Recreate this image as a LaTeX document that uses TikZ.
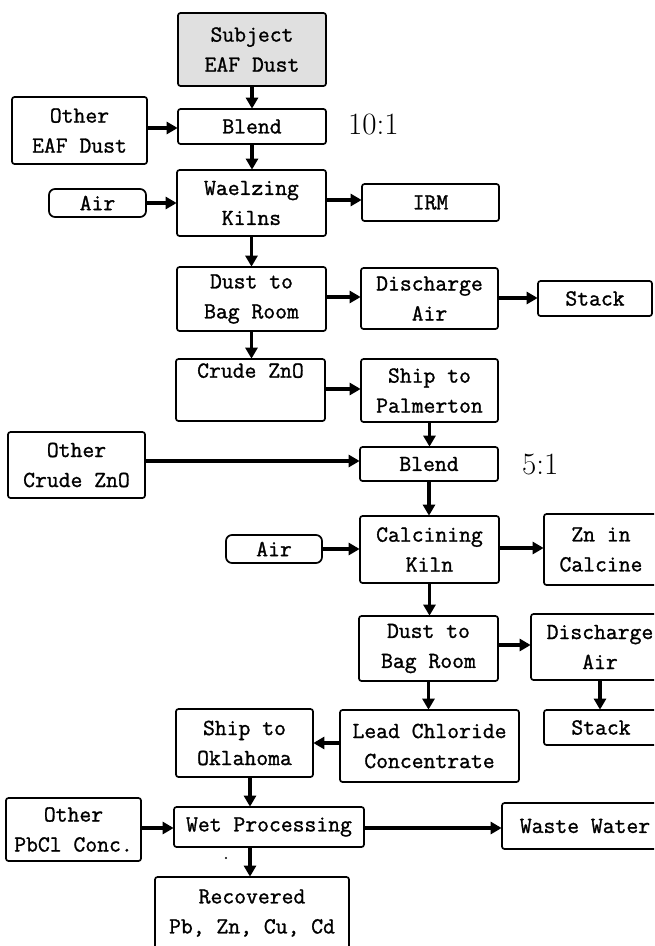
\documentclass[tikz,border=0pt]{standalone}
\usepackage{fontspec}
\newfontfamily\boxfont{Latin Modern Mono}[BoldFont={Latin Modern Mono},BoldFeatures={FakeBold=1.2}]
\usetikzlibrary{arrows.meta}
\begin{document}
\begin{tikzpicture}[x=1pt,y=-1pt,
  box/.style={draw, line width=1.7pt, rounded corners=2.5pt, inner sep=0pt,
    align=center, font=\fontsize{23}{30}\selectfont\boxfont\bfseries},
  pill/.style={box, rounded corners=6pt},
  arr/.style={line width=3.6pt, -{Triangle[length=11pt,width=12pt]}, shorten >=-0.5pt},
  ratio/.style={font=\fontsize{31}{33}\selectfont\rmfamily, inner sep=0pt}]
\clip (0,0) rectangle (654,946);
\fill[white] (0,0) rectangle (654,946);
% boxes
\node[box, fill=black!12, minimum width=148pt, minimum height=73pt] (subj) at (252,49.5) {Subject\\EAF Dust};
\node[box, minimum width=148pt, minimum height=35pt] (blend1) at (252,126.5) {Blend};
\node[box, minimum width=135pt, minimum height=67pt] (other1) at (79.5,130.5) {Other\\EAF Dust};
\node[ratio, anchor=west] (r1) at (348,124) {10:1};
\node[box, minimum width=149pt, minimum height=66pt] (waelz) at (251.5,203) {Waelzing\\Kilns};
\node[pill, minimum width=97pt, minimum height=28pt] (air1) at (97.5,203) {Air};
\node[box, minimum width=137pt, minimum height=37pt] (irm) at (430.5,202.5) {IRM};
\node[box, minimum width=149pt, minimum height=64pt] (dust1) at (251.5,299) {Dust to\\Bag Room};
\node[box, minimum width=137pt, minimum height=61pt] (disc1) at (429.5,298.5) {Discharge\\Air};
\node[box, minimum width=114pt, minimum height=35pt] (stack1) at (595,298.5) {Stack};
\node[box, minimum width=149pt, minimum height=62pt] (crude) at (250.5,390) {Crude ZnO\\\strut};
\node[box, minimum width=137pt, minimum height=63pt] (shipP) at (429.5,390.5) {Ship to\\Palmerton};
\node[box, minimum width=137pt, minimum height=66pt] (other2) at (76.5,465) {Other\\Crude ZnO};
\node[box, minimum width=138pt, minimum height=34pt] (blend2) at (429,464) {Blend};
\node[ratio, anchor=west] (r2) at (522,464) {5:1};
\node[box, minimum width=139pt, minimum height=67pt] (calc) at (429.5,549.5) {Calcining\\Kiln};
\node[pill, minimum width=96pt, minimum height=28pt] (air2) at (274,549) {Air};
\node[box, minimum width=114pt, minimum height=71pt] (zn) at (601,549.5) {Zn in\\Calcine};
\node[box, minimum width=139pt, minimum height=65pt] (dust2) at (428.5,648.5) {Dust to\\Bag Room};
\node[box, minimum width=138pt, minimum height=66pt] (disc2) at (600,647) {Discharge\\Air};
\node[box, minimum width=114pt, minimum height=35pt] (stack2) at (601,727.5) {Stack};
\node[box, minimum width=179pt, minimum height=72pt] (lead) at (429.5,746) {Lead Chloride\\Concentrate};
\node[box, minimum width=137pt, minimum height=68pt] (shipO) at (244.5,743) {Ship to\\Oklahoma};
\node[box, minimum width=135pt, minimum height=63pt] (otherPb) at (73.5,829.5) {Other\\PbCl Conc.};
\node[box, minimum width=190pt, minimum height=40pt] (wet) at (269,827) {Wet Processing};
\node[box, minimum width=166pt, minimum height=46pt] (waste) at (585,826) {Waste Water};
\node[box, minimum width=194pt, minimum height=72pt] (recov) at (252,913) {Recovered\\Pb, Zn, Cu, Cd};
% connectors
\draw[arr] (subj.south) -- (subj.south |- blend1.north);
\draw[arr] (other1.east |- 0,128) -- (blend1.west |- 0,128);
\draw[arr] (blend1.south) -- (blend1.south |- waelz.north);
\draw[arr] (air1.east) -- (air1.east -| waelz.west);
\draw[arr] (waelz.east |- 0,200) -- (irm.west |- 0,200);
\draw[arr] (waelz.south) -- (waelz.south |- dust1.north);
\draw[arr] (dust1.east |- 0,297) -- (disc1.west |- 0,297);
\draw[arr] (disc1.east |- 0,298) -- (stack1.west |- 0,298);
\draw[arr] (dust1.south) -- (dust1.south |- crude.north);
\draw[arr] (crude.east |- 0,389) -- (shipP.west |- 0,389);
\draw[arr] (shipP.south) -- (shipP.south |- blend2.north);
\draw[arr] (other2.east |- 0,461) -- (blend2.west |- 0,461);
\draw[arr] (blend2.south) -- (blend2.south |- calc.north);
\draw[arr] (air2.east) -- (air2.east -| calc.west);
\draw[arr] (calc.east |- 0,548) -- (zn.west |- 0,548);
\draw[arr] (calc.south) -- (calc.south |- dust2.north);
\draw[arr] (dust2.east |- 0,645) -- (disc2.west |- 0,645);
\draw[arr] (dust2.south) -- (dust2.south |- lead.north);
\draw[arr] (disc2.south) -- (disc2.south |- stack2.north);
\draw[arr] (lead.west |- 0,743) -- (shipO.east |- 0,743);
\draw[arr] (shipO.south -| 250,0) -- (250,0 |- wet.north);
\draw[arr] (otherPb.east |- 0,828) -- (wet.west |- 0,828);
\draw[arr] (wet.east |- 0,828) -- (waste.west |- 0,828);
\draw[arr] (wet.south -| 250,0) -- (250,0 |- recov.north);
\fill (226,858) circle (1.1pt);
\end{tikzpicture}
\end{document}
